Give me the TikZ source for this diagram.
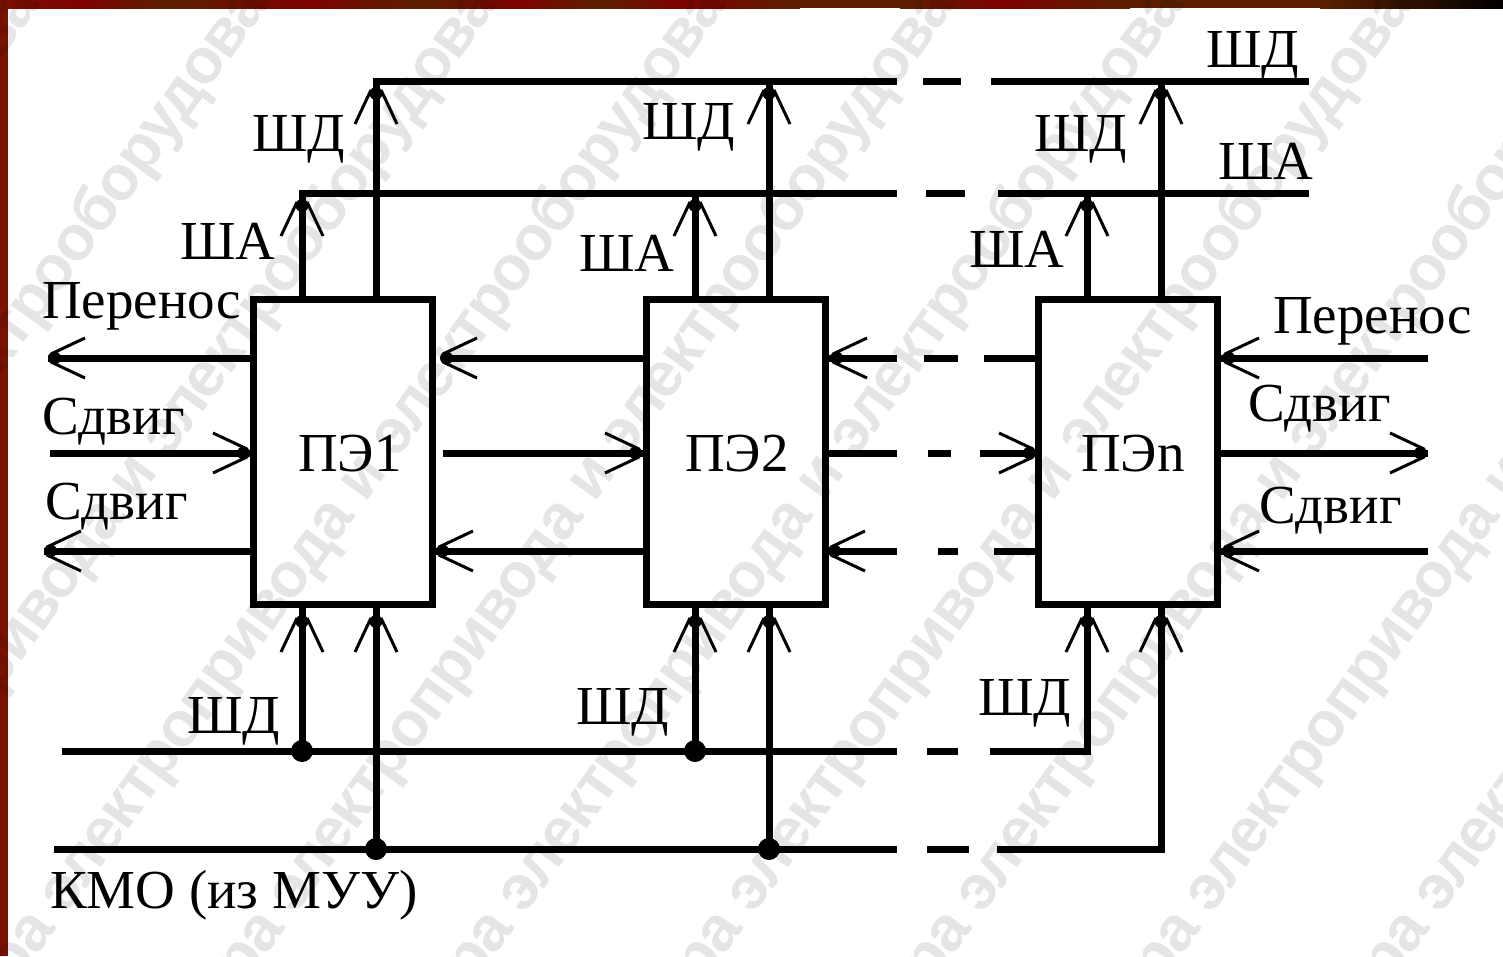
\documentclass[tikz,border=0pt]{standalone}
\usepackage{fontspec}
\setmainfont{Liberation Serif}
\newfontfamily\wmfont[LetterSpace=-2.4]{Liberation Sans}
\usetikzlibrary{calc}
\definecolor{frameleft}{RGB}{122,18,0}
\definecolor{framered}{RGB}{125,2,0}
\definecolor{framebrown}{RGB}{92,32,0}
\tikzset{
  x=1pt,y=-1pt,
  bus/.style={line width=7pt,line cap=butt},
  tip/.style={line width=3pt},
  block/.style={draw,line width=7pt,minimum width=179pt,minimum height=305pt,inner sep=0pt},
  lbl/.style={font=\fontsize{55}{55}\selectfont,inner sep=0pt,anchor=base west},
  dot/.style={circle,fill,inner sep=0pt,minimum size=22pt},
  wm/.style={rotate=54,anchor=base,inner sep=0pt,text=black,text opacity=0.1,font=\wmfont\bfseries\fontsize{63}{63}\selectfont},
  pics/upv/.style={code={\draw[tip] (-21,37) -- (-5,3) (21,37) -- (5,3); \fill (0,6.5) circle (6.5);}},
  pics/ltv/.style={code={\draw[tip] (37,-20) -- (3,-4) (37,20) -- (3,4); \fill (6.5,0) circle (6.5);}},
  pics/rtv/.style={code={\draw[tip] (-37,-20) -- (-3,-4) (-37,20) -- (-3,4); \fill (-6.5,0) circle (6.5);}}
}
\begin{document}
\begin{tikzpicture}
\useasboundingbox (0,0) rectangle (1503,956);
\clip (0,0) rectangle (1503,956);
\fill[white] (0,0) rectangle (1503,956);
% frame
\fill[frameleft] (0,0) rectangle (8,956);
\shade[left color=frameleft,right color=framered] (0,0) rectangle (81,8);
\shade[left color=framered,right color=framebrown] (81,0) rectangle (170,8);
\shade[left color=framebrown,right color=framered] (170,0) rectangle (306,8);
\shade[left color=framered,right color=framebrown] (306,0) rectangle (420,8);
\shade[left color=framebrown,right color=framered] (420,0) rectangle (517,8);
\shade[left color=framered,right color=framebrown] (517,0) rectangle (600,8);
\shade[left color=framebrown,right color=framered] (600,0) rectangle (680,8);
\shade[left color=framered,right color=framebrown] (680,0) rectangle (800,8);
\fill[framebrown] (800,0) rectangle (900,8);
\shade[left color=framebrown,right color=framered] (900,0) rectangle (1000,8);
\shade[left color=framered,right color=framebrown] (1000,0) rectangle (1130,8);
\fill[framebrown] (1130,0) rectangle (1320,8);
\shade[left color=framebrown,right color=black] (1320,0) rectangle (1503,8);
% blocks
\node[block] (pe1) at (343,452) {};
\node[block] (pe2) at (736,452) {};
\node[block] (pen) at (1128,452) {};
% bus ends and pin positions
\coordinate (shdT) at (1309,81);
\coordinate (shaT) at (1309,193);
\coordinate (shdB) at (62,751);
\coordinate (kmoB) at (54,849);
\coordinate (a1) at (302,193);
\coordinate (d1) at (376,81);
\coordinate (a2) at (695,193);
\coordinate (d2) at (769,81);
\coordinate (a3) at (1087,193);
\coordinate (d3) at (1161,81);
\coordinate (b1) at (302,751);
\coordinate (k1) at (376,849);
\coordinate (b2) at (695,751);
\coordinate (k2) at (769,849);
% top buses
\draw[bus] (d1 |- pe1.north) -- (d1) -- (897,81);
\draw[bus] (923,81) -- (961,81);
\draw[bus] (991,81) -- (shdT);
\draw[bus] (a1 |- pe1.north) -- (a1) -- (897,193);
\draw[bus] (926,193) -- (965,193);
\draw[bus] (998,193) -- (shaT);
\draw[bus] (d2 |- pe2.north) -- (d2);
\draw[bus] (a2 |- pe2.north) -- (a2);
\draw[bus] (d3 |- pen.north) -- (d3);
\draw[bus] (a3 |- pen.north) -- (a3);
% top tips
\foreach \p in {(376,87),(769,87),(1161,87),(302,199),(695,199),(1087,199)} \pic at \p {upv};
% bottom buses
\draw[bus] (shdB) -- (897,751);
\draw[bus] (927,751) -- (958,751);
\draw[bus] (990,751) -| (a3 |- pen.south);
\draw[bus] (kmoB) -- (897,849);
\draw[bus] (927,849) -- (969,849);
\draw[bus] (997,849) -| (d3 |- pen.south);
\draw[bus] (b1 |- pe1.south) -- (b1);
\draw[bus] (k1 |- pe1.south) -- (k1);
\draw[bus] (b2 |- pe2.south) -- (b2);
\draw[bus] (k2 |- pe2.south) -- (k2);
\foreach \p in {(302,615),(376,615),(695,615),(769,615),(1087,615),(1161,615)} \pic at \p {upv};
\node[dot] (j1) at (b1) {};
\node[dot] (j2) at (b2) {};
\node[dot] (j3) at (k1) {};
\node[dot] (j4) at (k2) {};
% horizontal signals, left of PE1
\coordinate (pl) at (48,358);
\coordinate (sl) at (50,453);
\coordinate (sdl) at (44,551);
\draw[bus] (pe1.west |- pl) -- (pl);
\draw[bus] (sl) -- (pe1.west |- sl);
\draw[bus] (pe1.west |- sdl) -- (sdl);
\pic at (48,358) {ltv};
\pic at (250,453) {rtv};
\pic at (44,551) {ltv};
% PE1-PE2
\draw[bus] (pe2.west |- pl) -- (441,358);
\draw[bus] (443,453) -- (pe2.west |- sl);
\draw[bus] (pe2.west |- sdl) -- (436,551);
\pic at (440,358) {ltv};
\pic at (642,453) {rtv};
\pic at (436,551) {ltv};
% PE2-PEn
\draw[bus] (pe2.east |- pl) -- (897,358);
\draw[bus] (924,358) -- (958,358);
\draw[bus] (984,358) -- (pen.west |- pl);
\draw[bus] (pe2.east |- sl) -- (897,453);
\draw[bus] (928,453) -- (951,453);
\draw[bus] (980,453) -- (pen.west |- sl);
\draw[bus] (pe2.east |- sdl) -- (897,551);
\draw[bus] (938,551) -- (958,551);
\draw[bus] (994,551) -- (pen.west |- sdl);
\pic at (830,358) {ltv};
\pic at (1036,453) {rtv};
\pic at (828,551) {ltv};
% right of PEn
\coordinate (pr) at (1428,358);
\coordinate (sr) at (1428,453);
\coordinate (sdr) at (1428,551);
\draw[bus] (pr) -- (pen.east |- pr);
\draw[bus] (pen.east |- sr) -- (sr);
\draw[bus] (sdr) -- (pen.east |- sdr);
\pic at (1222,358) {ltv};
\pic at (1427,453) {rtv};
\pic at (1222,551) {ltv};
% block labels
\node[lbl] (t1) at (298,471) {ПЭ1};
\node[lbl] (t2) at (685,471) {ПЭ2};
\node[lbl] (t3) at (1081,471) {ПЭn};
% labels
\node[lbl] (l1) at (252,151) {ШД};
\node[lbl] (l2) at (642,139) {ШД};
\node[lbl] (l3) at (1034,151) {ШД};
\node[lbl] (l4) at (1206,67) {ШД};
\node[lbl] (l5) at (180,259) {ША};
\node[lbl] (l6) at (579,271) {ША};
\node[lbl] (l7) at (969,267) {ША};
\node[lbl] (l8) at (1218,179) {ША};
\node[lbl] (l9) at (42,318) {Перенос};
\node[lbl] (l10) at (1273,333) {Перенос};
\node[lbl] (l11) at (42,434) {Сдвиг};
\node[lbl] (l12) at (45,519) {Сдвиг};
\node[lbl] (l13) at (1248,421) {Сдвиг};
\node[lbl] (l14) at (1259,523) {Сдвиг};
\node[lbl] (l15) at (187,733) {ШД};
\node[lbl] (l16) at (576,724) {ШД};
\node[lbl] (l17) at (978,715) {ШД};
\node[lbl] (l18) at (50,908) {КМО (из МУУ)};
% watermark
\foreach \k in {-3,...,8}
  \node[wm] (wm\k) at ({148+229*\k},488) {\makebox[0pt][r]{ра электропривода\ }и\makebox[0pt][l]{\ электрооборудования}};
\end{tikzpicture}
\end{document}
